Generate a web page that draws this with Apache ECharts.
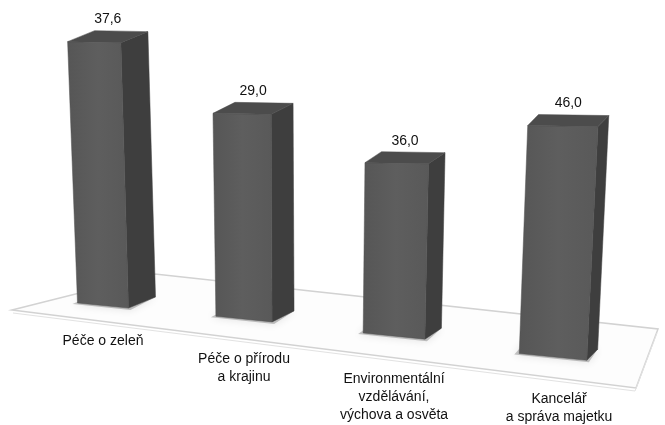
<!DOCTYPE html>
<html>
<head>
<meta charset="utf-8">
<script src="https://cdn.jsdelivr.net/npm/echarts@6/dist/echarts.min.js"></script>
<style>html,body{margin:0;padding:0;background:#fff}#c{width:665px;height:425px}</style>
</head>
<body>
<div id="c"></div>
<script>
// Categories (x axis)
const categories = ['Péče o zeleň', 'Péče o přírodu\na krajinu', 'Environmentální\nvzdělávání,\nvýchova a osvěta', 'Kancelář\na správa majetku'];
// Values shown as data labels
const valueLabels = [37.6, 29.0, 36.0, 46.0];
// Bar heights as drawn in the picture (same axis units)
const barHeights = [37.6, 29.2, 24.5, 32.8];

const chart = echarts.init(document.getElementById('c'), null, {renderer: 'canvas'});
const FONT = '"Liberation Sans", Arial, sans-serif';

function fmt(v) { return v.toFixed(1).replace('.', ','); }

function renderItem(params, api) {
  const i = api.value(0);
  const h = api.value(1);
  const lbl = api.value(2);
  const c0 = api.coord([0, 0])[0];
  const B = api.size([1, 0])[0];
  // mild perspective spread of category positions
  const xc = c0 + B * (0.906 * i + 0.0299 * i * i);
  const hp = api.coord([i, 0])[1] - api.coord([i, h])[1];
  const rel = xc - c0;
  const w = 51 + 0.037 * rel;
  const xl = xc - w / 2, xr = xc + w / 2;
  const u = xl - 78;
  const byL = 303 + 0.088 * u + 0.00006 * u * u;
  const byR = byL + 0.1 * w;
  const k = 1.7e-4, VX = 300;
  const xlt = xl + (xl - VX) * k * hp;
  const xrt = xr + (xr - VX) * k * hp;
  const ytl = byL - hp, ytr = ytl + 1;
  const dx = 27 - 0.036 * rel, dy = -11;
  const frontEdge = x => 310 + 0.1205 * (x - 12);
  return {
    type: 'group',
    children: [
      { type: 'polygon', z2: 1,
        shape: { points: [[xl - 5, byL + 1], [xr + 2, byR + 2], [xr + dx, byR + dy], [xl + dx - 5, byL + dy]] },
        style: { fill: 'rgba(0,0,0,0.22)', shadowBlur: 8, shadowColor: 'rgba(0,0,0,0.5)' } },
      { type: 'polygon', z2: 2,
        shape: { points: [[xr, byR], [xr + dx, byR + dy], [xrt + dx, ytr + dy], [xrt, ytr]] },
        style: { fill: '#3e3e3e', stroke: '#3e3e3e', lineWidth: 0.5 } },
      { type: 'polygon', z2: 3,
        shape: { points: [[xl, byL], [xr, byR], [xrt, ytr], [xlt, ytl]] },
        style: { fill: new echarts.graphic.LinearGradient(0, 0, 1, 0, [
          { offset: 0, color: '#565656' }, { offset: 0.5, color: '#5e5e5e' }, { offset: 1, color: '#595959' }]),
          stroke: '#505050', lineWidth: 0.5 } },
      { type: 'polygon', z2: 4,
        shape: { points: [[xlt, ytl], [xrt, ytr], [xrt + dx, ytr + dy], [xlt + dx, ytl + dy]] },
        style: { fill: '#4c4c4c', stroke: '#4c4c4c', lineWidth: 0.5 } },
      { type: 'text', z2: 5,
        style: { text: fmt(lbl), x: (xlt + xrt + dx) / 2, y: ytl + dy - 11,
          align: 'center', verticalAlign: 'middle', fill: '#111', font: '14px ' + FONT } },
      { type: 'text', z2: 5,
        style: { text: categories[i], x: xc + (i === 3 ? 6 : 0), y: frontEdge(xc) + 11 + 0.009 * rel,
          align: 'center', verticalAlign: 'top', fill: '#111', font: '14px ' + FONT, lineHeight: 18 } }
    ]
  };
}

chart.setOption({
  animation: false,
  backgroundColor: '#ffffff',
  grid: { left: 27.67, right: 34.67, top: 10, bottom: 67.5 },
  xAxis: { type: 'category', data: categories, show: false },
  yAxis: { type: 'value', min: 0, max: 50, show: false },
  graphic: { elements: [
    { type: 'polygon', z: -10, silent: true,
      shape: { points: [[12, 310], [155, 274], [658, 329], [636, 388]] },
      style: { fill: '#fdfdfd', stroke: '#d2d2d2', lineWidth: 1.5 } },
    { type: 'polyline', z: -10, silent: true,
      shape: { points: [[13, 313], [635, 391], [657, 333]] },
      style: { fill: null, stroke: '#e2e2e2', lineWidth: 1 } }
  ] },
  series: [{
    type: 'custom',
    renderItem: renderItem,
    clip: false,
    encode: { x: 0, y: 1 },
    data: barHeights.map((h, i) => [i, h, valueLabels[i]])
  }]
});
</script>
</body>
</html>
